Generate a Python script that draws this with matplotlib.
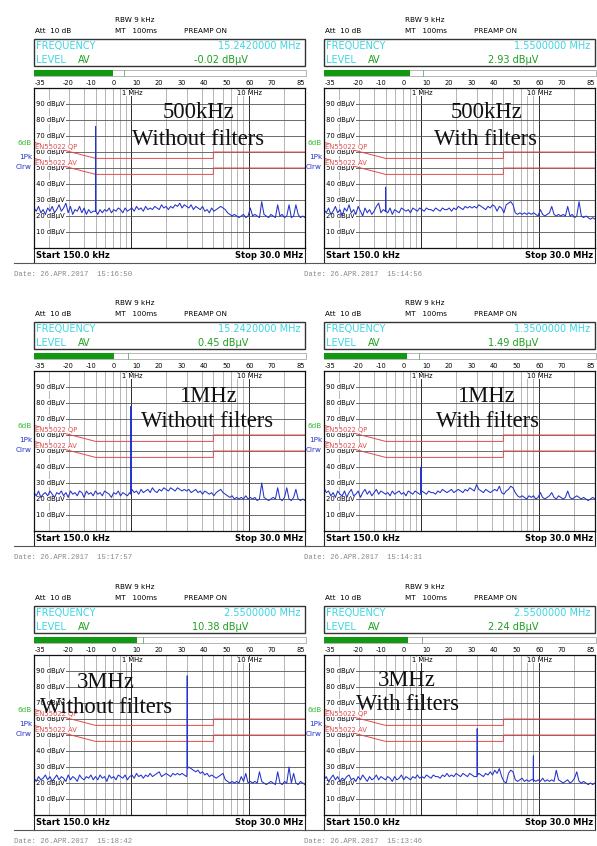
"""Conducted EMI scans (R&S receiver screenshots): 500 kHz / 1 MHz / 3 MHz, without and with filters.

Layout: 3 rows x 2 columns of screenshot-like panels, drawn in pixel coordinates
on a 597x846 canvas.
"""
import numpy as np
import matplotlib
matplotlib.use("Agg")
import matplotlib.pyplot as plt
from matplotlib.patches import Rectangle
from matplotlib.ticker import NullLocator

W, H = 597, 846
COL_X = [0, 290]
ROW_Y = [0, 283, 567]

CYAN = "#3ad6e4"
GREEN = "#1f9f1f"
BLUE = "#2333cc"
RED = "#e04a4a"

# ---- readouts / annotations (panel order: row by row, left then right) ----
titles = ["500kHz", "500kHz", "1MHz", "1MHz", "3MHz", "3MHz"]
subtitles = ["Without filters", "With filters"] * 3
freq_readout = ["15.2420000 MHz", "1.5500000 MHz", "15.2420000 MHz",
                "1.3500000 MHz", "2.5500000 MHz", "2.5500000 MHz"]
level_readout = [-0.02, 2.93, 0.45, 1.49, 10.38, 2.24]
level_marker = [4.7, 8.7, 6.5, 7.0, 13.1, 8.2]
times = ["15:16:50", "15:14:56", "15:17:57", "15:14:31", "15:18:42", "15:13:46"]
scale_ticks = [-35, -20, -10, 0, 10, 20, 30, 40, 50, 60, 70, 85]
y_ticks = [10, 20, 30, 40, 50, 60, 70, 80, 90]

# big overlay captions: (centre x, baseline y) in panel pixels
title_pos = [(199, 118), (197, 118), (208, 119), (196, 119), (106, 121), (117, 119)]
sub_pos = [(198, 145), (196, 145), (207, 144), (197, 144), (106, 146), (117, 143)]

# EN55022 class B limit lines (MHz, dBuV)
qp_f = [0.15, 0.5, 5.0, 5.0, 30.0]
qp_db = [66, 56, 56, 60, 60]
av_f = [0.15, 0.5, 5.0, 5.0, 30.0]
av_db = [56, 46, 46, 50, 50]

# ---- sweep traces, 150 kHz .. 30 MHz log sweep, one level per sweep point (dBuV) ----
trace_500k_without = [
    25, 23, 26, 22, 24, 21, 25, 23, 26, 22, 24, 27, 23, 25, 28, 22, 26, 21, 24, 23,
    26, 22, 25, 21, 24, 22, 23,
    23, 21, 24, 22, 24, 23, 25, 22, 24, 23, 25, 24, 22, 25, 23, 24,
    25, 23, 26, 24, 25, 23, 26, 24, 25, 24, 26, 25, 24, 27, 25, 26, 24, 26, 25, 27,
    26, 28, 25, 27,
    26, 25, 27, 24, 26, 25, 24, 26, 23, 24, 22, 25, 23, 24,
    25, 26, 25, 24, 22, 21, 20, 21, 20, 19,
    20, 21, 19, 20, 25, 20, 21, 20, 19, 29, 21, 20, 19, 21, 20, 19, 27, 20, 21, 19,
    20, 27, 19, 20, 27, 21, 19, 20, 19]
trace_500k_with = [
    24, 22, 25, 21, 23, 26, 22, 24, 20, 25, 23, 27, 22, 24, 21, 26, 23, 20, 25, 22,
    24, 21, 23, 26, 28, 22, 24,
    23, 22, 25, 21, 24, 23, 22, 25, 24, 23, 24, 22, 25, 24, 23, 25,
    24, 23, 25, 24, 24, 23, 25, 24, 23, 25, 24, 24, 25, 23, 25, 24, 26, 25, 24, 26,
    25, 26, 25, 26,
    25, 27, 26, 25, 24, 26, 25, 27, 26, 23, 26, 25, 22, 27,
    28, 29, 27, 22, 21, 22, 21, 22, 21, 22,
    21, 22, 21, 20, 24, 21, 20, 21, 22, 26, 21, 20, 21, 20, 21, 20, 26, 20, 21, 19,
    20, 29, 20, 19, 20, 19, 18, 19, 18]
trace_1m_without = [
    24, 22, 25, 21, 23, 24, 22, 25, 23, 21, 24, 23, 25, 22, 24, 21, 25, 23, 24, 22,
    25, 24, 21, 25, 23, 24, 22,
    25, 23, 24, 22, 25, 24, 23, 21, 24, 23, 25, 22, 24, 23, 22, 24,
    26, 24, 25, 23, 26, 24, 25, 26, 24, 27, 25, 24, 26, 25, 27, 26, 25, 27, 26, 25,
    27, 26, 25, 26,
    25, 26, 24, 25, 26, 24, 25, 23, 25, 24, 23, 24, 22, 24,
    25, 26, 24, 23, 22, 21, 22, 20, 21, 20,
    21, 20, 22, 20, 21, 20, 21, 19, 20, 30, 21, 20, 19, 20, 21, 20, 27, 20, 19, 21,
    27, 20, 19, 21, 26, 20, 19, 20, 19]
trace_1m_with = [
    27, 24, 25, 22, 24, 21, 25, 23, 22, 25, 21, 24, 26, 22, 23, 25, 21, 24, 26, 23,
    25, 22, 24, 26, 23, 25, 24,
    23, 24, 22, 25, 23, 24, 25, 23, 24, 22, 25, 24, 23, 25, 24, 23,
    25, 24, 23, 25, 24, 24, 23, 25, 24, 26, 25, 24, 25, 26, 24, 25, 26, 25, 24, 26,
    25, 27, 26, 25,
    29, 26, 25, 24, 26, 25, 24, 25, 26, 25, 28, 24, 23, 25,
    26, 28, 27, 24, 22, 21, 22, 21, 20, 22,
    21, 22, 20, 21, 24, 21, 20, 21, 22, 24, 21, 20, 22, 21, 20, 21, 25, 21, 20, 21,
    22, 21, 20, 21, 20, 19, 20, 21, 20]
trace_3m_without = [
    23, 21, 24, 22, 23, 25, 22, 24, 21, 23, 25, 22, 24, 23, 21, 25, 22, 24, 23, 21,
    25, 23, 22, 24, 23, 25, 22,
    24, 22, 25, 23, 24, 21, 25, 23, 24, 22, 25, 24, 23, 25, 22, 24,
    25, 23, 26, 24, 25, 23, 25, 24, 26, 24, 25, 26, 27, 24, 25, 26, 25, 24, 26, 25,
    26, 25, 26, 25,
    24, 30, 29, 28, 27, 28, 26, 27, 25, 26, 24, 25, 24, 23,
    24, 25, 26, 22, 21, 20, 21, 20, 21, 20,
    24, 21, 26, 20, 21, 20, 21, 20, 27, 21, 20, 19, 20, 21, 20, 19, 27, 20, 19, 21,
    20, 30, 20, 26, 20, 19, 21, 20, 19]
trace_3m_with = [
    22, 24, 21, 23, 25, 22, 24, 21, 23, 22, 24, 25, 22, 23, 21, 24, 22, 25, 23, 21,
    24, 22, 23, 25, 22, 24, 23,
    22, 24, 23, 21, 24, 22, 23, 25, 22, 24, 23, 22, 24, 23, 25, 23,
    24, 23, 25, 24, 23, 25, 24, 24, 23, 25, 24, 26, 24, 25, 24, 26, 25, 24, 26, 25,
    24, 26, 25, 24,
    24, 26, 25, 24, 26, 25, 27, 25, 28, 26, 29, 24, 21, 20,
    26, 28, 27, 22, 21, 22, 23, 21, 22, 21,
    22, 21, 21, 22, 21, 23, 21, 22, 21, 22, 21, 28, 22, 21, 20, 21, 22, 20, 21, 23,
    27, 21, 20, 21, 20, 19, 20, 19, 20]

# narrow interference lines (MHz, dBuV)
spike_f_500k_without = [0.497, 0.5, 0.503]
spike_db_500k_without = [23, 76, 23]
spike_f_500k_with = [0.497, 0.5, 0.503]
spike_db_500k_with = [23, 38, 23]
spike_f_1m_without = [0.995, 1.0, 1.005]
spike_db_1m_without = [23, 78, 24]
spike_f_1m_with = [0.995, 1.0, 1.005]
spike_db_1m_with = [23, 40, 24]
spike_f_3m_without = [2.985, 3.0, 3.015]
spike_db_3m_without = [25, 87, 29]
spike_f_3m_with = [2.985, 3.0, 3.015, 8.96, 9.0, 9.04]
spike_db_3m_with = [24, 54, 25, 22, 37, 22]

traces = [trace_500k_without, trace_500k_with, trace_1m_without,
          trace_1m_with, trace_3m_without, trace_3m_with]
spike_f = [spike_f_500k_without, spike_f_500k_with, spike_f_1m_without,
           spike_f_1m_with, spike_f_3m_without, spike_f_3m_with]
spike_db = [spike_db_500k_without, spike_db_500k_with, spike_db_1m_without,
            spike_db_1m_with, spike_db_3m_without, spike_db_3m_with]

minor_grid = [0.2, 0.3, 0.4, 0.5, 0.6, 0.7, 0.8, 0.9,
              2, 3, 4, 5, 6, 7, 8, 9, 20]
major_grid = [1, 10]

fig = plt.figure(figsize=(W / 100, H / 100), dpi=100)
fig.patch.set_facecolor("white")

bg = fig.add_axes([0, 0, 1, 1], zorder=0)
bg.set_xlim(0, W)
bg.set_ylim(H, 0)
bg.axis("off")

fg = fig.add_axes([0, 0, 1, 1], zorder=3)
fg.set_xlim(0, W)
fg.set_ylim(H, 0)
fg.axis("off")

SANS = "DejaVu Sans"


def bar_x(v):
    return 34 + (v + 35) / 120 * 272


def draw_panel(k):
    ox = COL_X[k % 2]
    oy = ROW_Y[k // 2]

    def t(x, y, s, **kw):
        kw.setdefault("fontsize", 5.2)
        kw.setdefault("va", "center")
        kw.setdefault("family", SANS)
        bg.text(ox + x, oy + y, s, **kw)

    # header
    t(115, 20, "RBW 9 kHz")
    t(35, 31, "Att  10 dB")
    t(115, 31, "MT   100ms")
    t(184, 31, "PREAMP ON")
    bg.add_patch(Rectangle((ox + 34, oy + 39), 271, 27, fc="none", ec="#333333", lw=1.0))
    t(36, 46, "FREQUENCY", fontsize=7, color=CYAN)
    t(300, 46, freq_readout[k], fontsize=7, color=CYAN, ha="right")
    t(36, 60, "LEVEL", fontsize=7, color=CYAN)
    t(78, 60, "AV", fontsize=7, color=GREEN)
    t(248, 60, f"{level_readout[k]:.2f} dBµV", fontsize=7, color=GREEN, ha="right")

    # level bar + scale
    bg.add_patch(Rectangle((ox + 34, oy + 70), 272, 6, fc="none", ec="#999999", lw=0.5))
    bg.add_patch(Rectangle((ox + 34, oy + 70), bar_x(level_readout[k]) - 34, 6,
                           fc="#119911", ec="none"))
    bg.plot([ox + bar_x(level_marker[k])] * 2, [oy + 70, oy + 76], color="#66aa66", lw=0.6)
    for s in scale_ticks:
        if s == scale_ticks[0]:
            t(35, 83, str(s), fontsize=4.8, ha="left")
        elif s == scale_ticks[-1]:
            t(305, 83, str(s), fontsize=4.8, ha="right")
        else:
            t(bar_x(s), 83, str(s), fontsize=4.8, ha="center")

    # left side trace info
    t(32, 143, "6dB", color="#33bb33", ha="right")
    t(32, 157, "1Pk", color=BLUE, ha="right")
    t(32, 167, "Clrw", color=BLUE, ha="right")

    # frame below the diagram, start/stop, date
    bg.plot([ox + 34, ox + 34], [oy + 248, oy + 263], color="#222222", lw=0.8)
    bg.plot([ox + 305, ox + 305], [oy + 248, oy + 263], color="#222222", lw=0.8)
    bg.plot([ox + 14, ox + 305], [oy + 263, oy + 263], color="#555555", lw=0.8)
    t(36, 255.5, "Start 150.0 kHz", fontsize=6, weight="bold")
    t(303, 255.5, "Stop 30.0 MHz", fontsize=6, weight="bold", ha="right")
    t(14, 274.5, f"Date: 26.APR.2017  {times[k]}", fontsize=5.2, color="#888888",
      family="Liberation Mono")

    # diagram
    ax = fig.add_axes([(ox + 34) / W, 1 - (oy + 248) / H, 271 / W, 160 / H], zorder=1)
    ax.set_xscale("log")
    ax.set_xlim(0.15, 30)
    ax.set_ylim(0, 100)
    for a in (ax.xaxis, ax.yaxis):
        a.set_major_locator(NullLocator())
        a.set_minor_locator(NullLocator())
    for sp in ax.spines.values():
        sp.set_color("#111111")
        sp.set_linewidth(0.9)
        sp.set_zorder(6)
    for f in minor_grid:
        ax.axvline(f, color="#a9a9a9", lw=0.6, zorder=0.5)
    for f in major_grid:
        ax.axvline(f, color="#2a2a2a", lw=0.7, zorder=0.6)
    for v in y_ticks:
        ax.axhline(v, color="#555555", lw=0.6, zorder=0.7)

    ytr = ax.get_yaxis_transform()
    for v in y_ticks:
        ax.text(0.0, v, f" {v} dBµV", transform=ytr, fontsize=4.9, va="center",
                ha="left", family=SANS,
                bbox=dict(fc="white", ec="none", pad=0.6), zorder=2)
    ax.text(0.325, 0.969, "1 MHz", transform=ax.transAxes, fontsize=4.9, va="center",
            family=SANS, bbox=dict(fc="white", ec="none", pad=0.3), zorder=2)
    ax.text(0.749, 0.969, "10 MHz", transform=ax.transAxes, fontsize=4.9, va="center",
            family=SANS, bbox=dict(fc="white", ec="none", pad=0.3), zorder=2)

    ax.plot(qp_f, qp_db, color=RED, lw=0.7, zorder=3)
    ax.plot(av_f, av_db, color=RED, lw=0.7, zorder=3)
    ax.text(0.002, 63.1, "EN55022 QP", transform=ytr, fontsize=4.9, color=RED,
            va="center", family=SANS, bbox=dict(fc="white", ec="none", pad=0.3), zorder=4)
    ax.text(0.002, 53.1, "EN55022 AV", transform=ytr, fontsize=4.9, color=RED,
            va="center", family=SANS, bbox=dict(fc="white", ec="none", pad=0.3), zorder=4)

    lv = np.asarray(traces[k], dtype=float)
    fq = np.geomspace(0.15, 30.0, len(lv))
    fq = np.concatenate([fq, spike_f[k]])
    lv = np.concatenate([lv, spike_db[k]])
    order = np.argsort(fq)
    ax.plot(fq[order], lv[order], color=BLUE, lw=0.75, zorder=5)

    # pasted captions
    tx, ty = title_pos[k]
    sx, sy = sub_pos[k]
    fg.text(ox + tx, oy + ty, titles[k], fontsize=16.3, family="Liberation Serif",
            ha="center", va="baseline", color="#111111")
    fg.text(ox + sx, oy + sy, subtitles[k], fontsize=16.3, family="Liberation Serif",
            ha="center", va="baseline", color="#111111")


for k in range(6):
    draw_panel(k)

fig.savefig("out.png", dpi=100, facecolor="white")
